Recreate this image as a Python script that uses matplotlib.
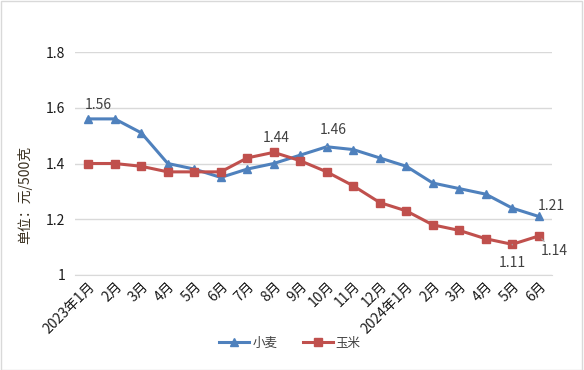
import matplotlib
matplotlib.use("Agg")
import matplotlib.pyplot as plt
from matplotlib.patches import Rectangle

plt.rcParams['font.family'] = ['Noto Sans CJK SC', 'DejaVu Sans']

categories = ["2023年1月", "2月", "3月", "4月", "5月", "6月", "7月", "8月", "9月", "10月", "11月", "12月",
              "2024年1月", "2月", "3月", "4月", "5月", "6月"]
wheat = [1.56, 1.56, 1.51, 1.40, 1.38, 1.35, 1.38, 1.40, 1.43, 1.46, 1.45, 1.42,
         1.39, 1.33, 1.31, 1.29, 1.24, 1.21]
corn = [1.40, 1.40, 1.39, 1.37, 1.37, 1.37, 1.42, 1.44, 1.41, 1.37, 1.32, 1.26,
        1.23, 1.18, 1.16, 1.13, 1.11, 1.14]
yticks = [1, 1.2, 1.4, 1.6, 1.8]
ytick_labels = ["1", "1.2", "1.4", "1.6", "1.8"]

W, H = 584, 370
fig = plt.figure(figsize=(W/100, H/100), dpi=100)
fig.patch.set_facecolor('white')
fig.add_artist(Rectangle((0.5/W, 0.5/H), 1 - 2.5/W, 1 - 1.5/H, transform=fig.transFigure,
                         fill=False, edgecolor='#D9D9D9', linewidth=1))

ax = fig.add_axes([75/W, (H-275)/H, (552-75)/W, (275-52)/H])
x = list(range(len(categories)))
blue = '#4F81BD'
red = '#C0504D'
ax.plot(x, wheat, color=blue, linewidth=2.2, marker='^', markersize=6, label='小麦')
ax.plot(x, corn, color=red, linewidth=2.2, marker='s', markersize=5.5, label='玉米')

ax.set_xlim(-0.5, len(categories) - 0.5)
ax.set_ylim(1, 1.8)
ax.set_yticks(yticks)
ax.set_yticklabels(ytick_labels)
ax.set_xticks(x)
ax.set_xticklabels(categories, rotation=45, ha='right', va='top', rotation_mode='anchor')
ax.grid(axis='y', color='#D9D9D9', linewidth=1)
ax.set_axisbelow(True)
for s in ['top', 'right', 'left']:
    ax.spines[s].set_visible(False)
ax.spines['bottom'].set_color('#D9D9D9')
ax.tick_params(axis='both', length=0, labelsize=10, colors='#1a1a1a')
ax.tick_params(axis='y', pad=7)
ax.tick_params(axis='x', pad=3)

fig.text(25/W, 1 - 195/H, '单位：元/500克', rotation=90, ha='center', va='center',
         fontsize=10, color='#3a3020')

ann_kw = dict(fontsize=10, color='#404040')
ax.annotate('1.56', (0, wheat[0]), xytext=(7.5, 10), textcoords='offset points', ha='center', va='center', **ann_kw)
ax.annotate('1.44', (7, corn[7]), xytext=(1.5, 10.5), textcoords='offset points', ha='center', va='center', **ann_kw)
ax.annotate('1.46', (9, wheat[9]), xytext=(4.5, 12), textcoords='offset points', ha='center', va='center',
            arrowprops=dict(arrowstyle='-', color='#A6A6A6', lw=0.8, shrinkA=5, shrinkB=3), **ann_kw)
ax.annotate('1.21', (17, wheat[17]), xytext=(9, 7.5), textcoords='offset points', ha='center', va='center', **ann_kw)
ax.annotate('1.14', (17, corn[17]), xytext=(11, -11), textcoords='offset points', ha='center', va='center',
            arrowprops=dict(arrowstyle='-', color='#A6A6A6', lw=0.8, shrinkA=6, shrinkB=3), **ann_kw)
ax.annotate('1.11', (16, corn[16]), xytext=(0, -13.5), textcoords='offset points', ha='center', va='center',
            arrowprops=dict(arrowstyle='-', color='#A6A6A6', lw=0.8, shrinkA=6, shrinkB=3), **ann_kw)

leg = fig.legend(loc='center', bbox_to_anchor=(290/W, 1 - 343/H), ncol=2, frameon=False,
                 fontsize=9, handlelength=2.4, columnspacing=2.0, handletextpad=0.25)
for t in leg.get_texts():
    t.set_color('#404040')

fig.savefig('out.png', dpi=100, facecolor='white')
